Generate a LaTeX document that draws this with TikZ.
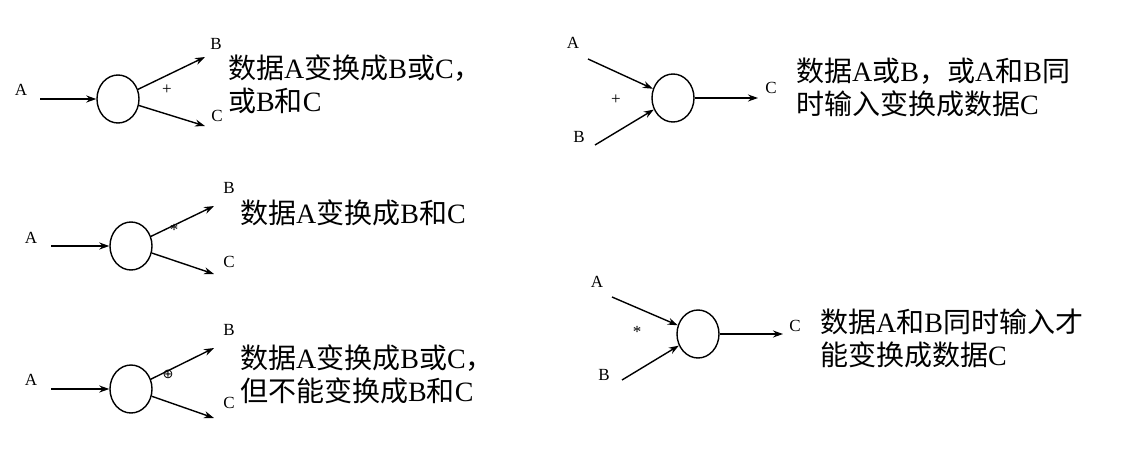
\documentclass[tikz,border=0pt]{standalone}
\usepackage{fontspec}
\setmainfont{Liberation Serif}
\newfontfamily\cjk{Noto Sans CJK SC}
\newfontfamily\symfont{DejaVu Sans}
\usetikzlibrary{shapes.geometric,arrows.meta}
\newcommand\zh[1]{{\cjk #1}}
\begin{document}
\begin{tikzpicture}[x=1pt,y=-1pt,
  proc/.style={draw, line width=1.4pt, ellipse, minimum width=42pt, minimum height=48pt, inner sep=0pt},
  arr/.style={line width=1.4pt, -{Stealth[length=10pt,width=7pt]}},
  lbl/.style={font=\fontsize{17}{17}\selectfont, inner sep=0pt},
  sym/.style={font=\fontsize{17}{17}\selectfont, inner sep=0pt},
  desc/.style={font=\fontsize{28}{33}\selectfont, align=left, anchor=west, inner sep=0pt}]
\useasboundingbox (0,0) rectangle (1126,460);
% ---------- diagram 1 ----------
\node[proc] (p1) at (118,99) {};
\node[lbl] (a1) at (21,90) {A};
\node[lbl] (b1) at (216,44) {B};
\node[lbl] (c1) at (217,116) {C};
\coordinate (a1s) at (40,99);
\coordinate (b1e) at (205,57);
\coordinate (c1e) at (205,126);
\draw[arr] (a1s) -- (p1);
\draw[arr] (p1) -- (b1e);
\draw[arr] (p1) -- (c1e);
\node[sym] (s1) at (167,90) {+};
\node[desc] (t1) at (228,84) {\zh{数据}A\zh{变换成}B\zh{或}C\zh{，}\\\zh{或}B\zh{和}C};
% ---------- diagram 2 ----------
\node[proc] (p2) at (131,246) {};
\node[lbl] (a2) at (31,238) {A};
\node[lbl] (b2) at (229,188) {B};
\node[lbl] (c2) at (229,262) {C};
\coordinate (a2s) at (51,246);
\coordinate (b2e) at (214,206);
\coordinate (c2e) at (214,274);
\draw[arr] (a2s) -- (p2);
\draw[arr] (p2) -- (b2e);
\draw[arr] (p2) -- (c2e);
\node[sym] (s2) at (174,230) {*};
\node[desc] (t2) at (240,213) {\zh{数据}A\zh{变换成}B\zh{和}C};
% ---------- diagram 3 ----------
\node[proc] (p3) at (131,389) {};
\node[lbl] (a3) at (31,380) {A};
\node[lbl] (b3) at (229,330) {B};
\node[lbl] (c3) at (229,403) {C};
\coordinate (a3s) at (51,389);
\coordinate (b3e) at (214,348);
\coordinate (c3e) at (214,418);
\draw[arr] (a3s) -- (p3);
\draw[arr] (p3) -- (b3e);
\draw[arr] (p3) -- (c3e);
\node[sym, font=\symfont\fontsize{13}{13}\selectfont] (s3) at (168,374) {⊕};
\node[desc] (t3) at (240,374) {\zh{数据}A\zh{变换成}B\zh{或}C\zh{，}\\\zh{但不能变换成}B\zh{和}C};
% ---------- diagram 4 ----------
\node[proc] (p4) at (673,98) {};
\node[lbl] (a4) at (573,43) {A};
\node[lbl] (b4) at (579,137) {B};
\node[lbl] (c4) at (771,88) {C};
\coordinate (a4s) at (588,59);
\coordinate (b4s) at (595,145);
\coordinate (c4e) at (758,98);
\draw[arr] (a4s) -- (p4);
\draw[arr] (b4s) -- (p4);
\draw[arr] (p4) -- (c4e);
\node[sym] (s4) at (616,100) {+};
\node[desc] (t4) at (796,87) {\zh{数据}A\zh{或}B\zh{，或}A\zh{和}B\zh{同}\\\zh{时输入变换成数据}C};
% ---------- diagram 5 ----------
\node[proc] (p5) at (698,334) {};
\node[lbl] (a5) at (597,282) {A};
\node[lbl] (b5) at (604,375) {B};
\node[lbl] (c5) at (795,326) {C};
\coordinate (a5s) at (612,297);
\coordinate (b5s) at (622,380);
\coordinate (c5e) at (783,334);
\draw[arr] (a5s) -- (p5);
\draw[arr] (b5s) -- (p5);
\draw[arr] (p5) -- (c5e);
\node[sym] (s5) at (637,332) {*};
\node[desc] (t5) at (820,338) {\zh{数据}A\zh{和}B\zh{同时输入才}\\\zh{能变换成数据}C};
\end{tikzpicture}
\end{document}
